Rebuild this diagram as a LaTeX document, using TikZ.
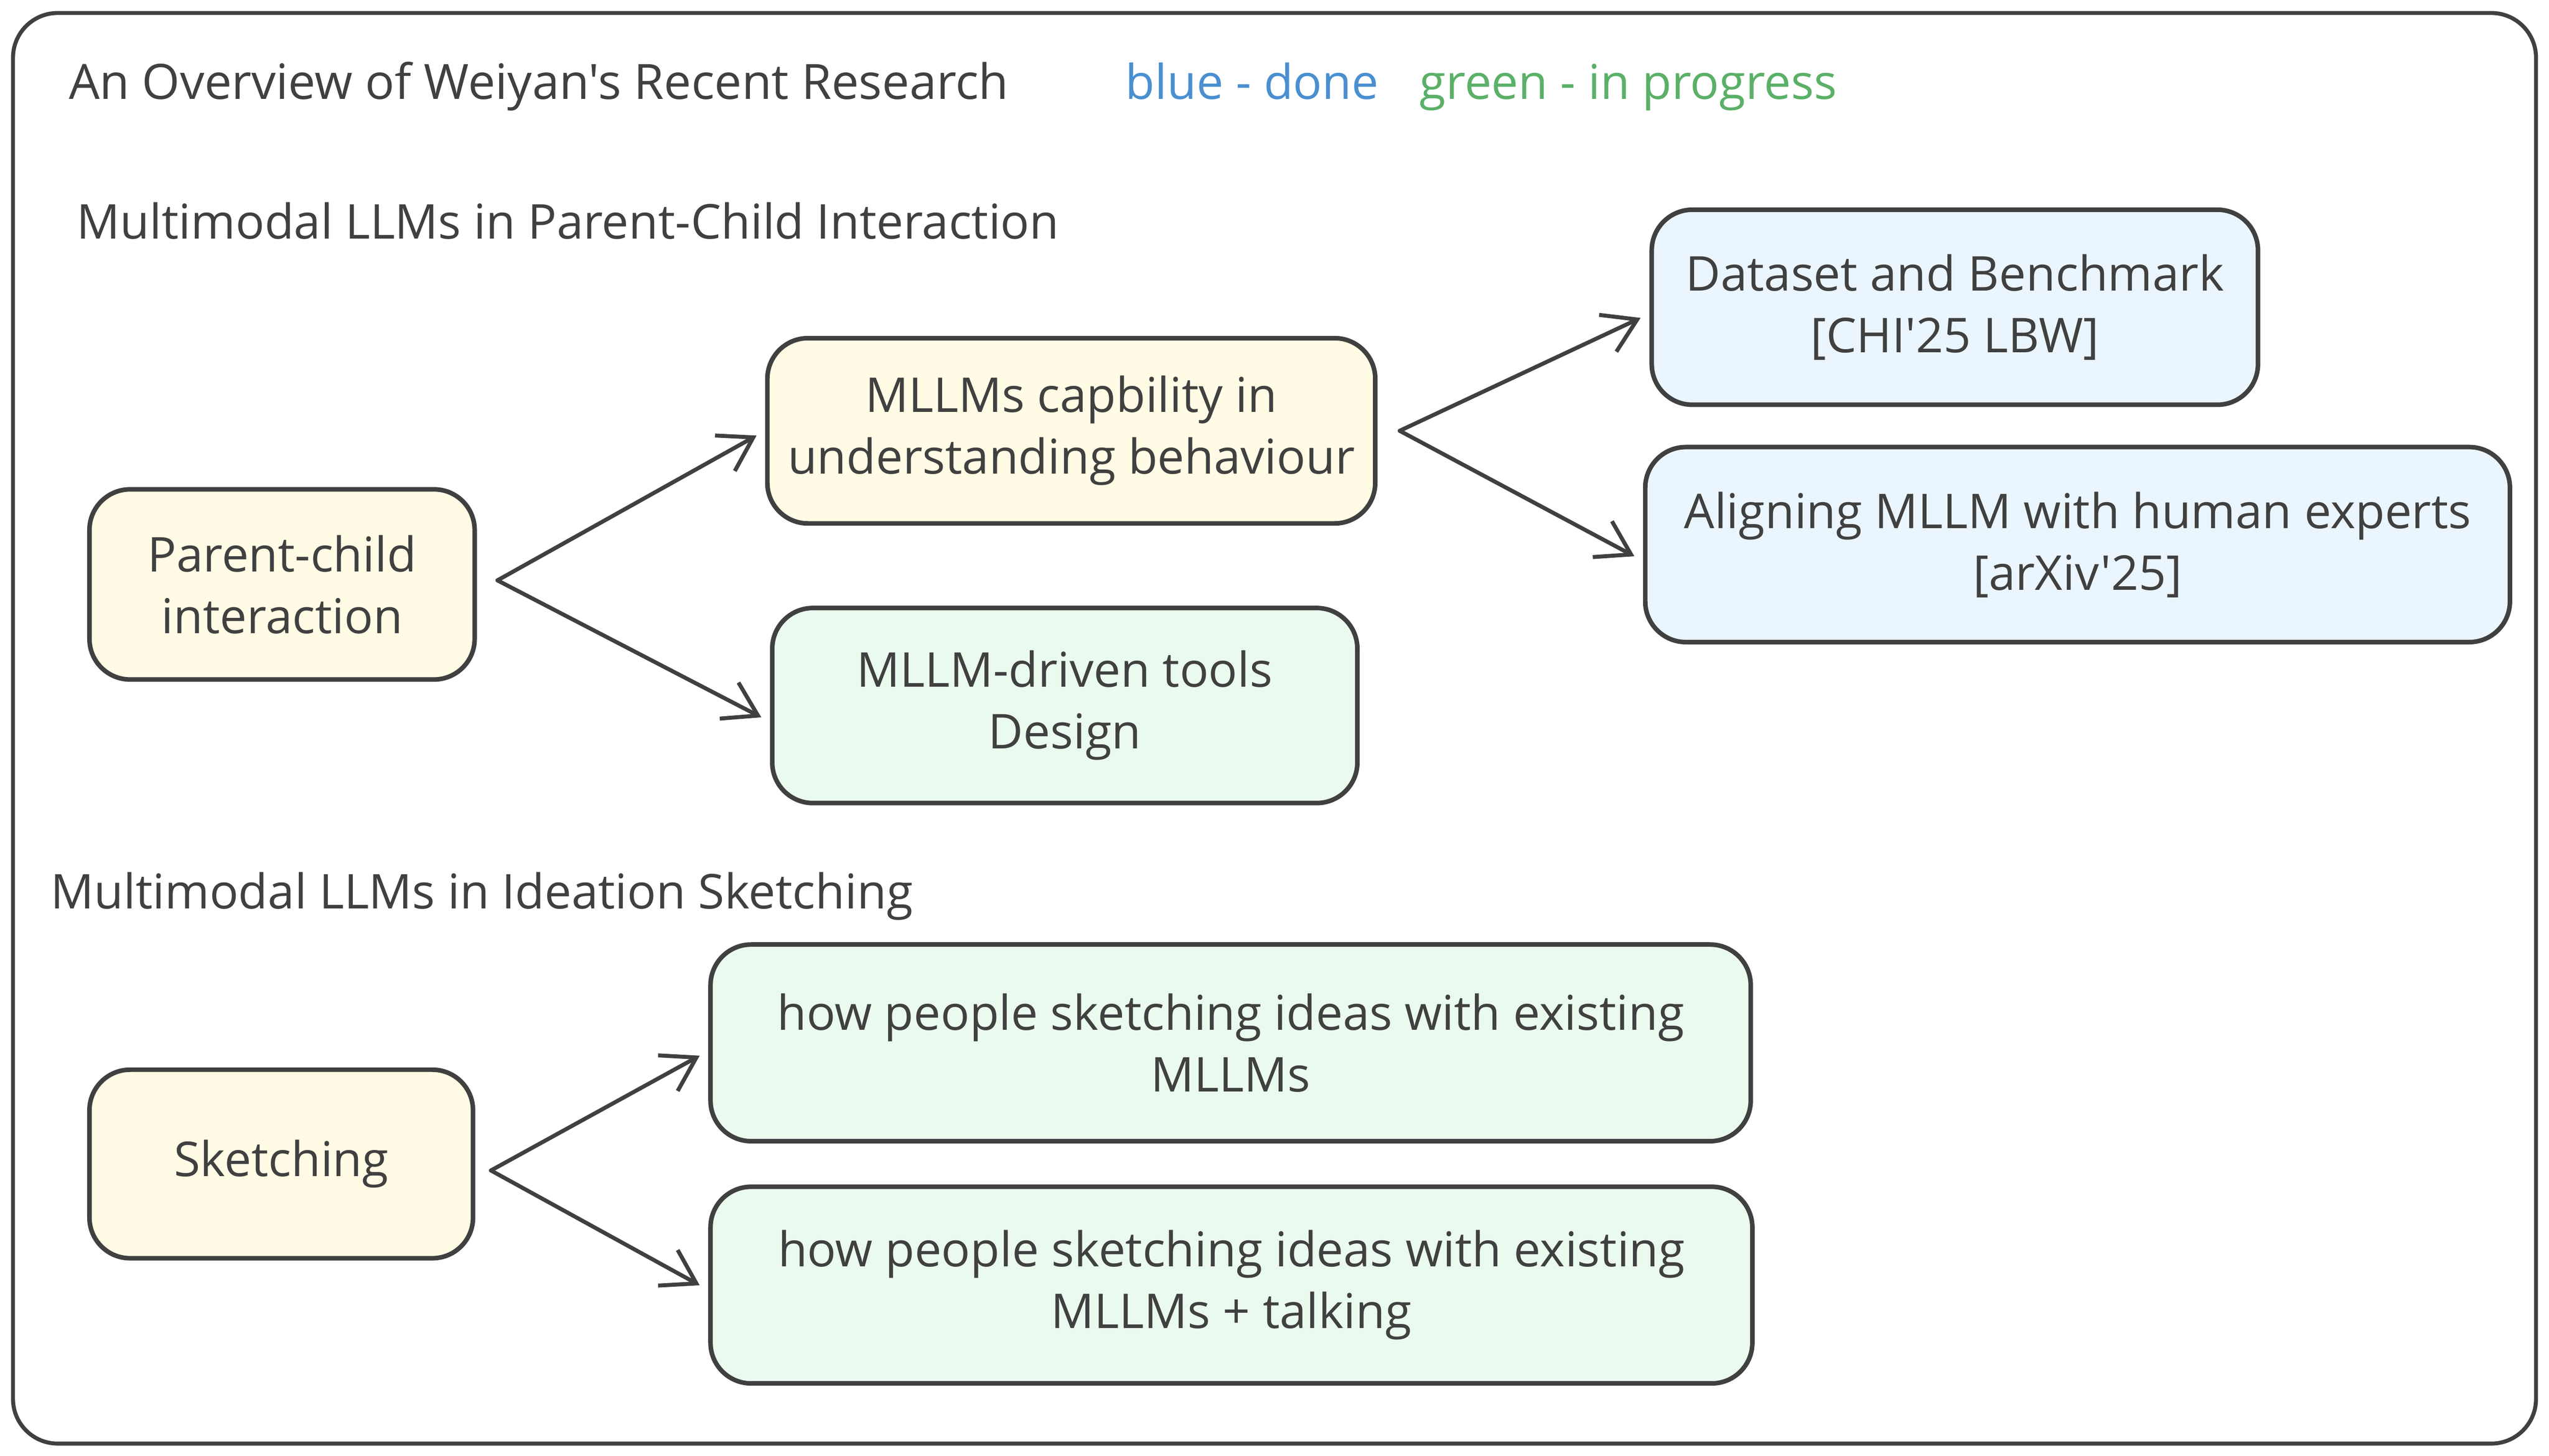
\documentclass[tikz,border=0pt]{standalone}
\usepackage{fontspec}
\setmainfont{Open Sans}[Ligatures=TeXOff]
\usetikzlibrary{arrows.meta}
\definecolor{ink}{HTML}{404040}
\definecolor{yfill}{HTML}{FFFBE4}
\definecolor{bfill}{HTML}{EBF5FE}
\definecolor{gfill}{HTML}{EBFAEE}
\definecolor{bluetxt}{HTML}{4A8FD0}
\definecolor{greentxt}{HTML}{5BB068}
\begin{document}
\begin{tikzpicture}[x=0.02cm, y=-0.02cm, font=\fontsize{16.8pt}{21.6pt}\selectfont, text=ink,
  box/.style={draw=ink, line width=1.6pt, rounded corners=0.5cm, align=center, inner sep=0pt},
  topic/.style={box, fill=yfill},
  done/.style={box, fill=bfill},
  todo/.style={box, fill=gfill},
  head/.style={anchor=base west, inner sep=0pt},
  arr/.style={draw=ink, line width=1.4pt, line cap=round, shorten >=0.12cm,
    -{Straight Barb[length=0.4cm, width=0.5cm, line width=1.4pt]}}]
  \useasboundingbox (0,0) rectangle (1568,895.6);
  \draw[ink, line width=1.4pt, rounded corners=0.55cm] (8,8) rectangle (1560,888);

  \node[head, font=\fontsize{17.05pt}{21.6pt}\selectfont] (title) at (42,61) {An Overview of Weiyan's Recent Research};
  \node[head, text=bluetxt] (blue) at (692,61) {blue - done};
  \node[head, text=greentxt] (green) at (873,61) {green - in progress};

  \node[head] (sec1) at (47,147) {Multimodal LLMs in Parent-Child Interaction};
  \node[topic, minimum width=4.74cm, minimum height=2.34cm] (pc) at (173.5,359.5) {Parent-child\\interaction};
  \node[topic, minimum width=7.48cm, minimum height=2.28cm] (mllm) at (659,265) {MLLMs capbility in\\understanding behaviour};
  \node[todo, minimum width=7.2cm, minimum height=2.4cm] (tools) at (655,434) {MLLM-driven tools\\Design};
  \node[done, minimum width=7.46cm, minimum height=2.4cm] (data) at (1202.5,189) {Dataset and Benchmark\\{[CHI'25 LBW]}};
  \node[done, minimum width=10.64cm, minimum height=2.4cm] (align) at (1278,335) {Aligning MLLM with human experts\\{[arXiv'25]}};

  \node[head] (sec2) at (31,559) {Multimodal LLMs in Ideation Sketching};
  \node[topic, minimum width=4.72cm, minimum height=2.32cm] (sk) at (173,716) {Sketching};
  \node[todo, minimum width=12.8cm, minimum height=2.42cm] (sk1) at (757,641.5) {how people sketching ideas with existing\\MLLMs};
  \node[todo, minimum width=12.82cm, minimum height=2.42cm] (sk2) at (757.5,790.5) {how people sketching ideas with existing\\MLLMs + talking};

  % arrow starts, a little right of each box
  \coordinate (pcout) at (306,357);
  \coordinate (mllmout) at (861,265);
  \coordinate (skout) at (302,720);

  \draw[arr] (pcout) -- (mllm.west);
  \draw[arr] (pcout) -- ([yshift=-0.2cm]tools.west);
  \draw[arr] (mllmout) -- ([yshift=-0.08cm]data.west);
  \draw[arr] (mllmout) -- ([yshift=-0.2cm]align.west);
  \draw[arr] (skout) -- ([yshift=-0.1cm]sk1.west);
  \draw[arr] (skout) -- ([yshift=-0.06cm]sk2.west);
\end{tikzpicture}
\end{document}
